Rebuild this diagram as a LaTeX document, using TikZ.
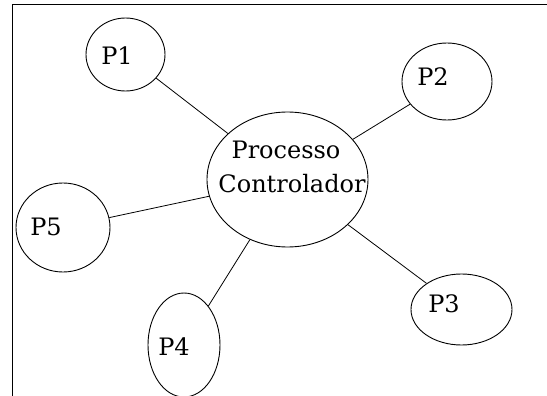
\documentclass[tikz,border=0pt]{standalone}
\usepackage{fontspec}
\setmainfont{DejaVu Serif}
\usetikzlibrary{shapes.geometric}

\tikzset{
  proc/.style={ellipse,draw=black,line width=0.9pt,inner sep=0pt},
  proclabel/.style={inner sep=0pt,anchor=base,font=\fontsize{24}{28}\selectfont},
  link/.style={black,line width=0.8pt}
}

\begin{document}
\begin{tikzpicture}[x=1pt,y=-1pt]
  \useasboundingbox (0,0) rectangle (547,396);

  % Frame (left and top edges)
  \draw[line width=0.8pt] (12,396) -- (12,4) -- (547,4);

  % Controller process
  \node[proc,minimum width=161pt,minimum height=135pt] (ctl) at (287.5,179.5) {};
  \node[proclabel] (ctltop) at (286,159) {Processo};
  \node[proclabel] (ctlbottom) at (292,193) {Controlador};

  % Worker processes
  \node[proc,minimum width=79pt,minimum height=73pt] (p1) at (125.5,54.5) {};
  \node[proc,minimum width=90pt,minimum height=77pt] (p2) at (447,81.5) {};
  \node[proc,minimum width=101pt,minimum height=71pt] (p3) at (461.5,309.5) {};
  \node[proc,minimum width=72pt,minimum height=104pt] (p4) at (184,345) {};
  \node[proc,minimum width=94pt,minimum height=89pt] (p5) at (63,227.5) {};

  \node[proclabel] (p1text) at (117,65) {P1};
  \node[proclabel] (p2text) at (433,85) {P2};
  \node[proclabel] (p3text) at (444,312) {P3};
  \node[proclabel] (p4text) at (174,355) {P4};
  \node[proclabel] (p5text) at (46,235) {P5};

  % Connections
  \foreach \i in {1,...,5} {
    \draw[link] (ctl) -- (p\i);
  }
\end{tikzpicture}
\end{document}
